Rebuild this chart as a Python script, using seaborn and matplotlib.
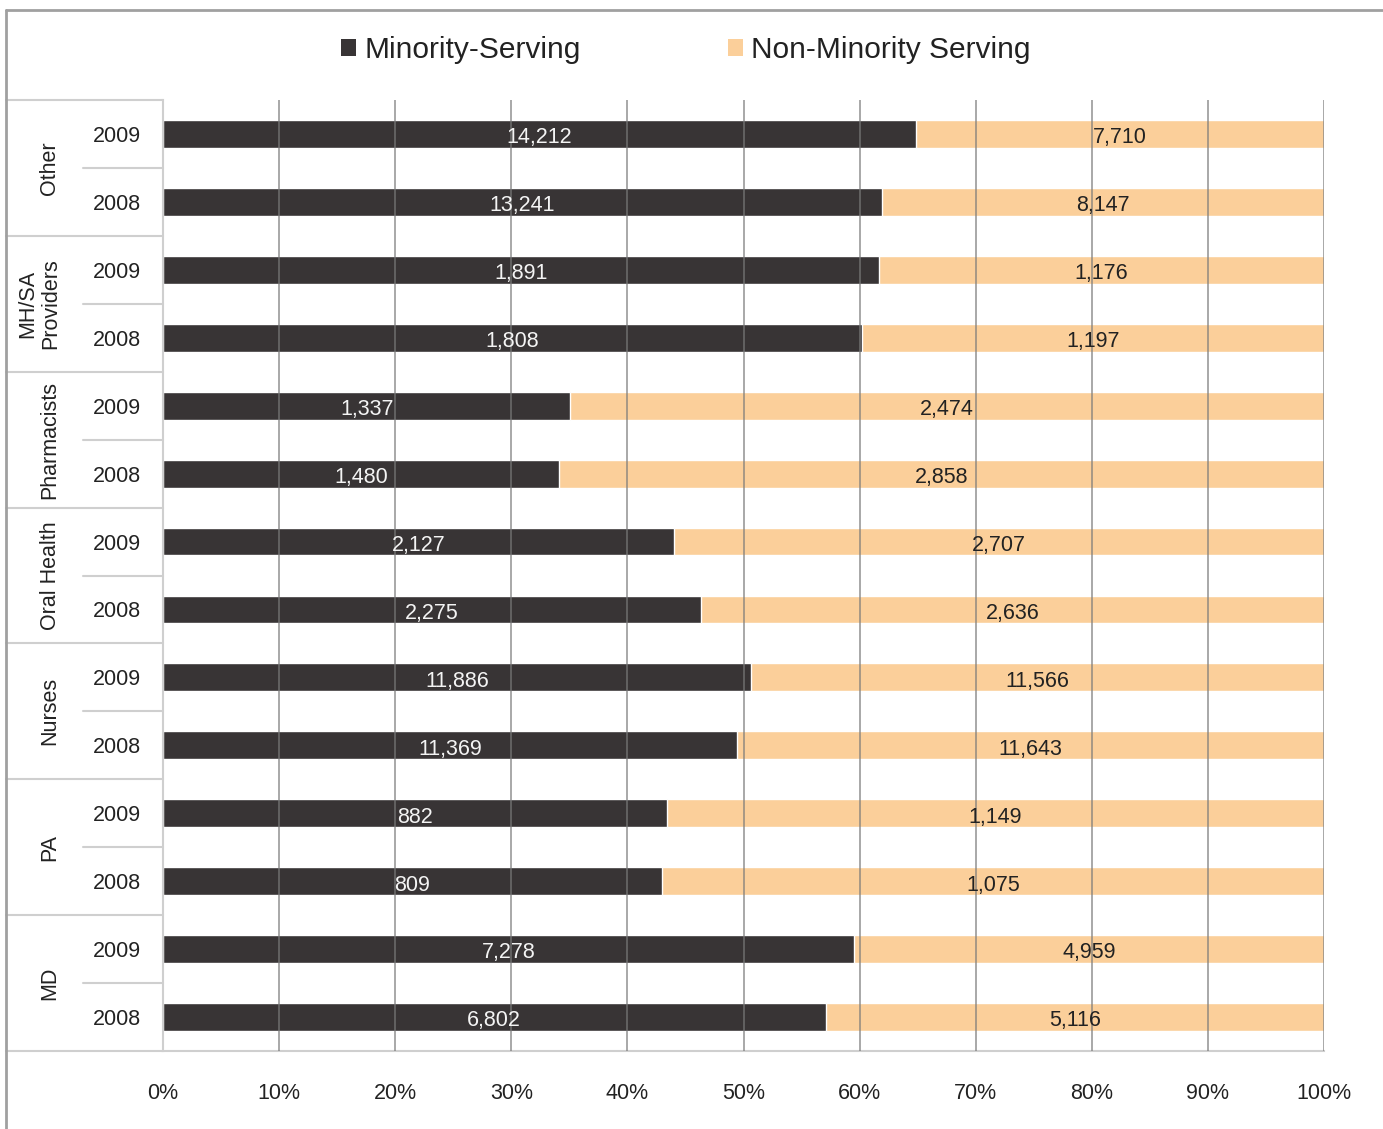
import matplotlib
matplotlib.use("Agg")
import matplotlib.pyplot as plt
import seaborn as sns
import pandas as pd
import numpy as np
from matplotlib.patches import Patch
from matplotlib.lines import Line2D

groups = ["Other", "MH/SA\nProviders", "Pharmacists", "Oral Health", "Nurses", "PA", "MD"]
years = ["2009", "2008"]
minority = [14212, 13241, 1891, 1808, 1337, 1480, 2127, 2275, 11886, 11369, 882, 809, 7278, 6802]
non_minority = [7710, 8147, 1176, 1197, 2474, 2858, 2707, 2636, 11566, 11643, 1149, 1075, 4959, 5116]
series_names = ["Minority-Serving", "Non-Minority Serving"]

dark = "#383435"
orange = "#FBCF9A"
fs = 15.5

sns.set_theme(style="white")
plt.rcParams["font.family"] = ["Liberation Sans", "DejaVu Sans"]

rows = [f"{g}|{y}" for g in groups for y in years]
min_arr = np.array(minority, dtype=float)
non_arr = np.array(non_minority, dtype=float)
share = min_arr / (min_arr + non_arr) * 100
df = pd.DataFrame({"row": rows, "total": 100.0, "share": share})

fig = plt.figure(figsize=(13.83, 11.29), dpi=100)
ax = fig.add_axes([163/1383, 1-1051/1129, (1324-163)/1383, (1051-100)/1129])

sns.barplot(data=df, y="row", x="total", color=orange, orient="h", width=0.41,
            saturation=1, ax=ax, zorder=2)
sns.barplot(data=df, y="row", x="share", color=dark, orient="h", width=0.41,
            saturation=1, ax=ax, zorder=2)

ax.set_xlim(0, 100)
ax.set_ylim(len(rows) - 0.5, -0.5)
ax.set_xlabel("")
ax.set_ylabel("")
ax.set_xticks(np.arange(0, 101, 10))
ax.set_xticklabels([f"{v}%" for v in range(0, 101, 10)], fontsize=fs, color="#222222")
ax.set_yticks(range(len(rows)))
ax.set_yticklabels([r.split("|")[1] for r in rows], fontsize=fs, color="#222222")
ax.tick_params(axis="y", length=0, pad=16)
ax.tick_params(axis="x", length=7, color="#cfcfcf", width=1.5, pad=16)
for x in range(10, 101, 10):
    ax.axvline(x, color="#7a7a7a", lw=1.3, alpha=0.7, zorder=3)

for s in ["top", "right"]:
    ax.spines[s].set_visible(False)
for s in ["left", "bottom"]:
    ax.spines[s].set_color("#cfcfcf")
    ax.spines[s].set_linewidth(1.5)

# data labels
for i in range(len(rows)):
    ax.text(share[i] / 2, i + 0.02, f"{int(minority[i]):,}", ha="center", va="center_baseline",
            color="#f4f4f4", fontsize=fs, zorder=4)
    ax.text(share[i] + (100 - share[i]) / 2, i + 0.02, f"{int(non_minority[i]):,}", ha="center",
            va="center_baseline", color="#222222", fontsize=fs, zorder=4)

# left table
trans = ax.get_yaxis_transform()
x_far = (6 - 163) / 1161
x_mid = (83 - 163) / 1161
for k in range(len(groups) + 1):
    yb = 2 * k - 0.5
    ax.add_line(Line2D([x_far, 0], [yb, yb], transform=trans, color="#cfcfcf", lw=1.5,
                       clip_on=False))
for k, g in enumerate(groups):
    ym = 2 * k + 0.5
    ax.add_line(Line2D([x_mid, 0], [ym, ym], transform=trans, color="#cfcfcf", lw=1.5,
                       clip_on=False))
    xpx = 39 if "\n" in g else 50
    ax.text((xpx - 163) / 1161, ym, g, transform=trans, rotation=90, ha="center", va="center",
            fontsize=fs, color="#222222", linespacing=1.1)

# frame
fig.add_artist(Line2D([6/1383, 1], [1-10/1129, 1-10/1129], color="#a0a0a0", lw=2))
fig.add_artist(Line2D([6/1383, 6/1383], [0, 1-10/1129], color="#a0a0a0", lw=2))

handles = [Patch(facecolor=dark, edgecolor="none"), Patch(facecolor=orange, edgecolor="none")]
fig.legend(handles, series_names, loc="center", bbox_to_anchor=(686/1383, 1-50/1129), ncol=2,
           frameon=False, fontsize=21.5, handlelength=0.5, handleheight=0.5,
           handletextpad=0.3, columnspacing=4.9, labelcolor="#222222")

fig.savefig("out.png", dpi=100)
